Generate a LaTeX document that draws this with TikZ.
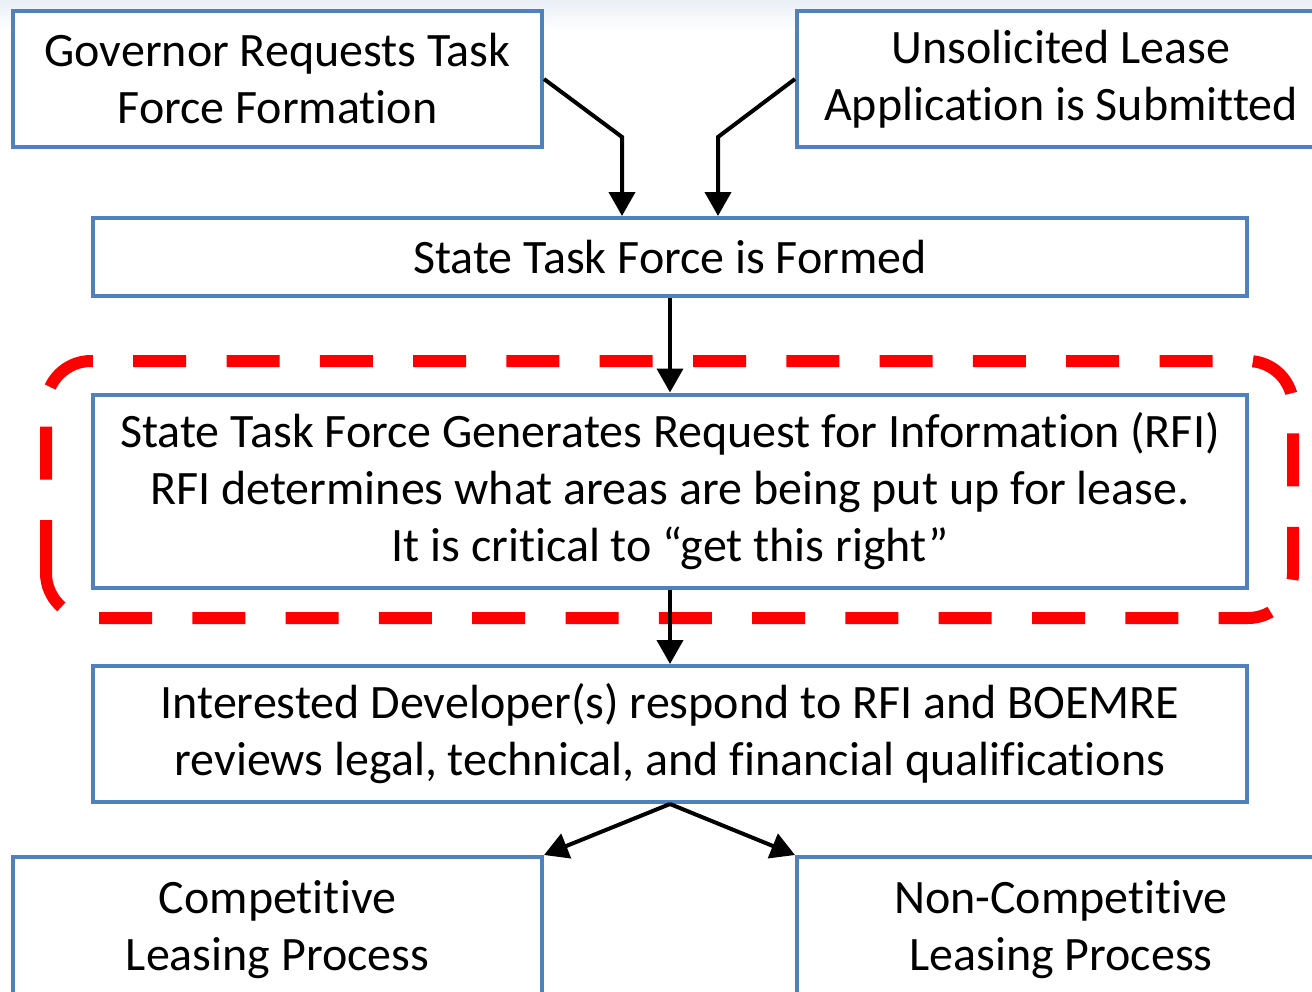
\documentclass[tikz,border=0pt]{standalone}
\usepackage{fontspec}
\setmainfont{Carlito}[Ligatures=NoCommon]
\usetikzlibrary{arrows.meta,calc}
\definecolor{boxblue}{RGB}{79,129,189}
\definecolor{alertred}{RGB}{255,0,0}
\definecolor{topband}{RGB}{234,239,246}
\tikzset{
  stepbox/.style={draw=boxblue, line width=4pt, fill=white, inner sep=0pt,
    align=center, font=\fontsize{48}{57}\selectfont},
  flow/.style={draw=black, line width=4pt,
    -{Triangle[length=24pt,width=26pt]}},
}
\begin{document}
\begin{tikzpicture}[x=1pt,y=-1pt]
\clip (0,0) rectangle (1312,991);
\fill[white] (0,0) rectangle (1312,991);
\shade[top color=topband, bottom color=white] (0,0) rectangle (1312,30);

% dashed outline around the RFI step, traced clockwise from the lower left corner
\draw[alertred, line width=12pt, dash pattern=on 53pt off 40.3pt,
  rounded corners=45pt]
  (46,618) -- (46,361) -- (1293,361) -- (1293,618) -- cycle;

\node[stepbox, minimum width=529pt, minimum height=136pt] (gov) at (277.5,79)
  {Governor Requests Task\\Force Formation};
\node[stepbox, minimum width=528pt, minimum height=136pt] (unsol) at (1061,79)
  {Unsolicited Lease\\Application is Submitted};
\node[stepbox, minimum width=1154pt, minimum height=78pt] (formed) at (670,257)
  {State Task Force is Formed};
\node[stepbox, minimum width=1154pt, minimum height=193pt] (rfi) at (670,491)
  {State Task Force Generates Request for Information (RFI)\\
   RFI determines what areas are being put up for lease.\\
   It is critical to “get this right”};
\node[stepbox, minimum width=1154pt, minimum height=136pt] (resp) at (670,734)
  {Interested Developer(s) respond to RFI and BOEMRE\\
   reviews legal, technical, and financial qualifications};
\node[stepbox, minimum width=529pt, minimum height=146pt] (comp) at (277.5,930)
  {Competitive\\Leasing Process};
\node[stepbox, minimum width=528pt, minimum height=146pt] (noncomp) at (1061,930)
  {Non-Competitive\\Leasing Process};

\coordinate (gbend) at (622,137);
\coordinate (ubend) at (718,137);
\draw[flow] (gov.east) -- (gbend) -- (gbend |- formed.north);
\draw[flow] (unsol.west) -- (ubend) -- (ubend |- formed.north);
\draw[flow] (formed.south) -- (rfi.north);
\draw[flow] (rfi.south) -- (resp.north);
\draw[flow] (resp.south) -- (comp.north east);
\draw[flow] (resp.south) -- (noncomp.north west);
\end{tikzpicture}
\end{document}
